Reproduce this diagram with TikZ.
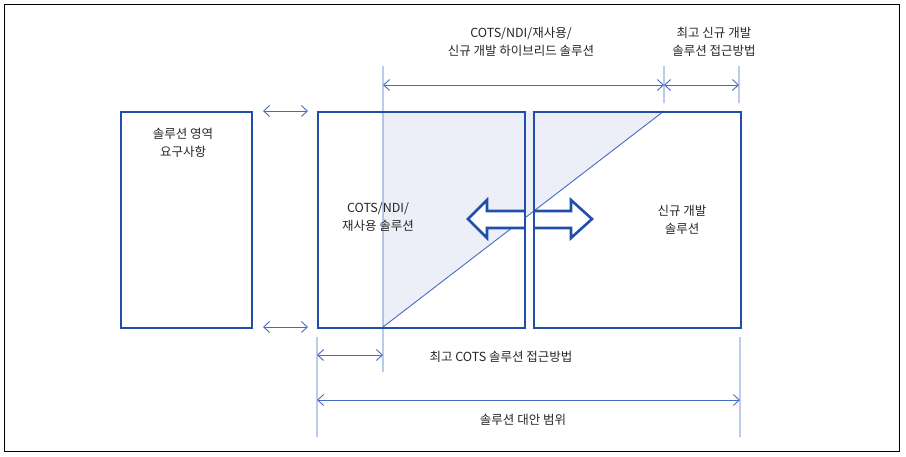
\documentclass[tikz,border=0pt]{standalone}
\usepackage{fontspec}
\newfontfamily\kr{Noto Sans CJK KR}
\usetikzlibrary{arrows.meta}
\definecolor{boxblue}{RGB}{32,78,168}
\definecolor{lineblue}{RGB}{72,106,196}
\definecolor{paleblue}{RGB}{236,239,248}
\tikzset{
  box/.style={draw=boxblue,line width=2.2pt,anchor=north west,minimum height=216pt},
  thinline/.style={draw=lineblue,line width=0.9pt},
  dim/.style={thinline,{Straight Barb[length=6pt,width=11pt]}-{Straight Barb[length=6pt,width=11pt]}},
  bigarrow/.style={draw=boxblue,line width=2.6pt,fill=white,line join=miter},
  lbl/.style={font=\kr\fontsize{12.5}{18}\selectfont,align=center,inner sep=0pt,text=black!85}
}
\begin{document}
\begin{tikzpicture}[x=1pt,y=-1pt]
\useasboundingbox (0,0) rectangle (906,456);
\draw[line width=1pt] (4,4) rectangle (899,451);
% shaded part
\fill[paleblue] (383,111) -- (664,111) -- (383,327) -- cycle;
% guide lines
\coordinate (ta) at (383,66);
\coordinate (tb) at (664,66);
\coordinate (tc) at (739,66);
\coordinate (tb2) at (664,103);
\coordinate (tc2) at (739,103);
\coordinate (ba) at (383,372);
\coordinate (bl) at (317,337);
\coordinate (bl2) at (317,437);
\coordinate (br) at (740,337);
\coordinate (br2) at (740,437);
\coordinate (dl) at (383,327);
\coordinate (dr) at (664,111);
\draw[thinline] (ta)--(ba) (tb)--(tb2) (tc)--(tc2) (bl)--(bl2) (br)--(br2) (dl)--(dr);
% big arrows
\draw[bigarrow] (524,211)--(487,211)--(487,200)--(468,219)--(487,238)--(487,228)--(524,228);
\draw[bigarrow] (533,211)--(571,211)--(571,200)--(592,219)--(571,238)--(571,228)--(533,228);
% boxes
\node[box,minimum width=131pt] (req) at (120,111) {};
\node[box,minimum width=207pt] (cots) at (317,111) {};
\node[box,minimum width=207pt] (newdev) at (533,111) {};
% dimensions
\coordinate (d1) at (383,85);
\coordinate (d2) at (664,85);
\coordinate (d3) at (739,85);
\coordinate (d4) at (317,355);
\coordinate (d5) at (383,355);
\coordinate (d6) at (317,400);
\coordinate (d7) at (740,400);
\coordinate (s1) at (263,111);
\coordinate (s2) at (308,111);
\coordinate (s3) at (263,327);
\coordinate (s4) at (308,327);
\draw[dim] (d1)--(d2);
\draw[dim] (d2)--(d3);
\draw[dim] (d4)--(d5);
\draw[dim] (d6)--(d7);
\draw[dim] (s1)--(s2);
\draw[dim] (s3)--(s4);
% labels
\node[lbl] (reqtxt) at (183,143) {솔루션 영역\\요구사항};
\node[lbl] (cotstxt) at (378,217) {COTS/NDI/\\재사용 솔루션};
\node[lbl] (newtxt) at (682,220) {신규 개발\\솔루션};
\node[lbl] (hybtxt) at (521,42) {COTS/NDI/재사용/\\신규 개발 하이브리드 솔루션};
\node[lbl] (besttxt) at (714,42) {최고 신규 개발\\솔루션 접근방법};
\node[lbl] (cotsbest) at (501,357) {최고 COTS 솔루션 접근방법};
\node[lbl] (range) at (523,420) {솔루션 대안 범위};
\end{tikzpicture}
\end{document}
